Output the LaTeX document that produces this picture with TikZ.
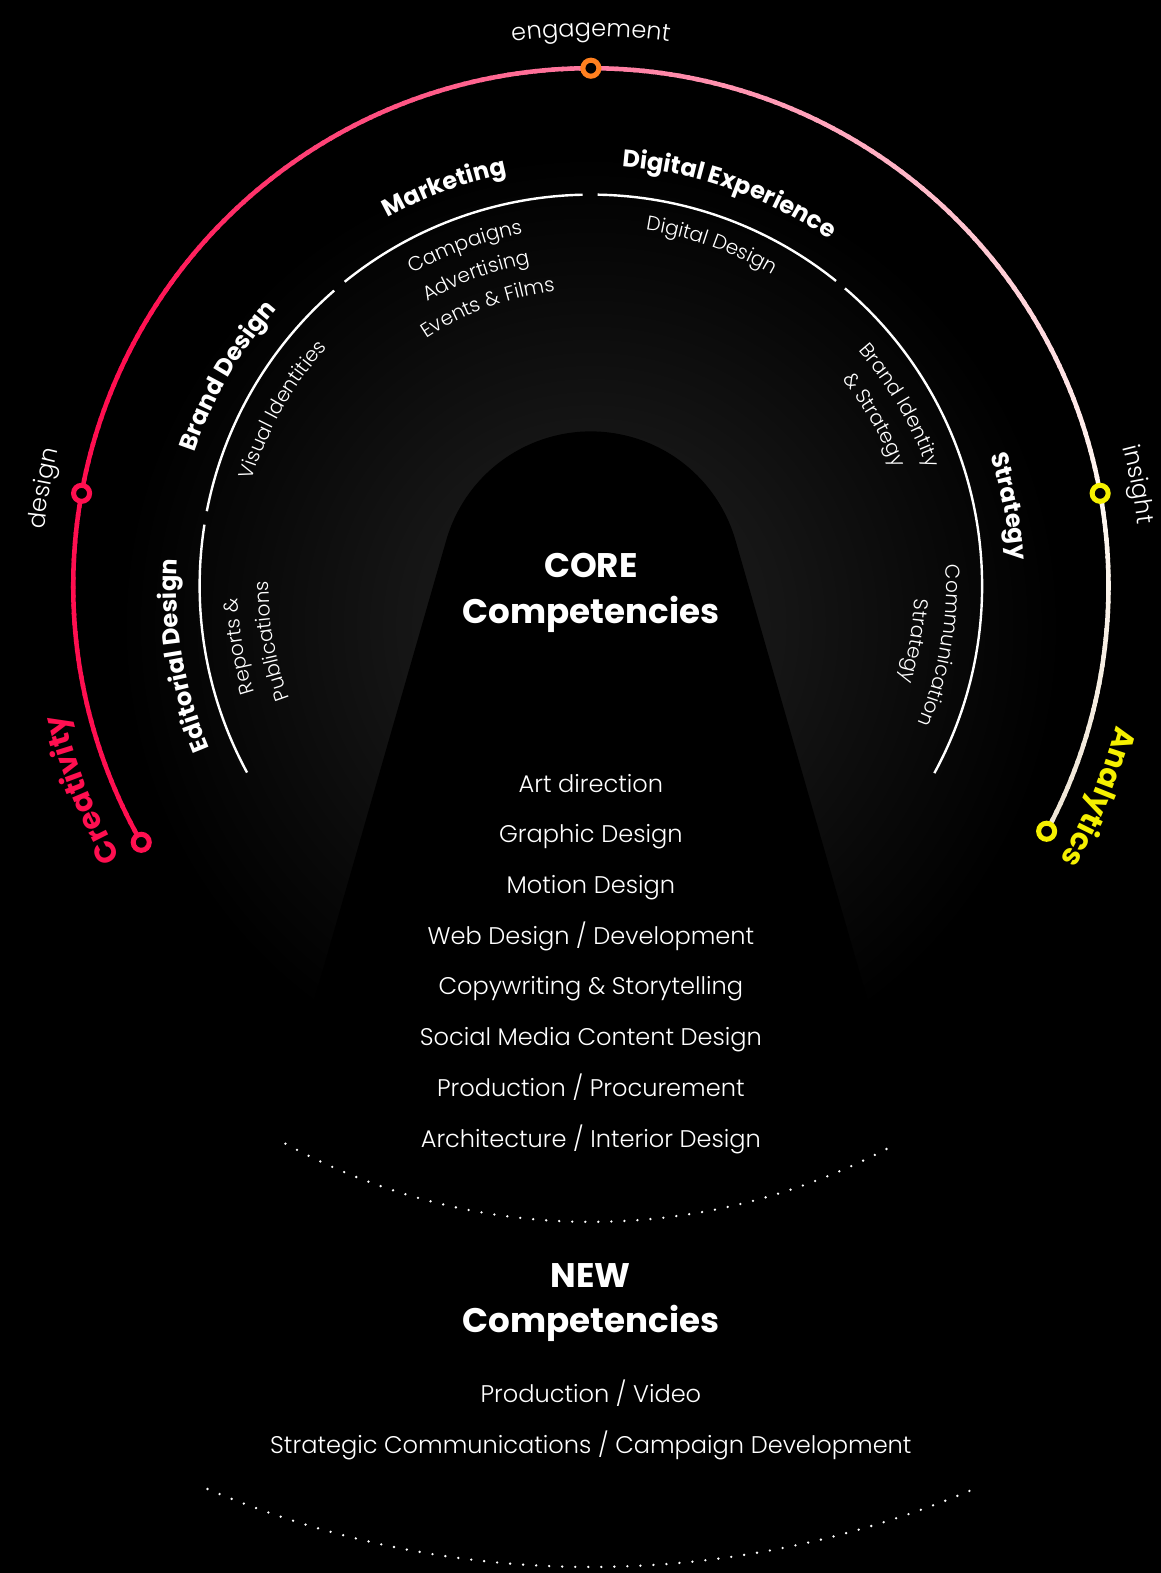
\documentclass[tikz,border=0pt]{standalone}
\usepackage{fontspec}
\usetikzlibrary{decorations.text}

\newfontfamily\lightf{Poppins Light}
\newfontfamily\boldf{Poppins Bold}
\newcommand\lightsm{\lightf\fontsize{20}{20}\selectfont}
\newcommand\lightmd{\lightf\fontsize{24}{24}\selectfont}
\newcommand\boldmd{\boldf\fontsize{24}{24}\selectfont}
\newcommand\boldlg{\boldf\fontsize{30}{30}\selectfont}
\newcommand\boldxl{\boldf\fontsize{34}{34}\selectfont}

\definecolor{cRed}{HTML}{FF0F50}
\definecolor{cPink}{HTML}{FF7AA0}
\definecolor{cPale}{HTML}{FFF8F2}
\definecolor{cCream}{HTML}{EFE6D6}
\definecolor{cOrange}{HTML}{FF801F}
\definecolor{cYellow}{HTML}{F5F000}
\definecolor{glowA}{HTML}{1F1F1F}
\definecolor{glowB}{HTML}{151515}
\definecolor{glowC}{HTML}{080808}

% the path's bounding box spans 25bp of radius
\pgfdeclareradialshading{glow}{\pgfpointorigin}{%
  color(0bp)=(glowA); color(10bp)=(glowB); color(19bp)=(glowC);
  color(25bp)=(black); color(50bp)=(black)}

% text centred on a clockwise arc: angle, radius, half span, font, colour, text
\newcommand\arclabel[6]{%
  \path[decorate, decoration={text along path, text align=center,
      text color=#5, text={|#4|#6}}]
    ({#1+#3}:#2) arc[start angle={#1+#3}, end angle={#1-#3}, radius=#2];}

\tikzset{
  outer/.style={line width=4.5, line cap=butt},
  inner/.style={white, line width=2.4},
  ring/.style={circle, draw=#1, line width=5, fill=black,
    minimum size=16, inner sep=0pt},
  listtxt/.style={text=white, font=\lightmd, anchor=base},
  headtxt/.style={text=white, font=\boldxl, anchor=base},
  dots/.style={white, line width=2.6, line cap=round,
    dash pattern=on 0pt off 13pt}
}

\begin{document}
\begin{tikzpicture}[x=1pt,y=1pt]
\useasboundingbox (-589,-984) rectangle (568,584);
\fill[black] (-589,-984) rectangle (568,584);

% soft glow behind the centre, with the dark arch in front of it
\shade[shading=glow] (0,-40) circle (470);
\fill[black] (-392.6,-819.6) -- (-144.2,45.3)
  arc[start angle=164, end angle=16, radius=150]
  -- (392.6,-819.6) -- cycle;

% inner ring of five sectors
\draw[inner] (208.5:390) arc[start angle=208.5, end angle=171, radius=390];
\draw[inner] (169:390) arc[start angle=169, end angle=131, radius=390];
\draw[inner] (129:390) arc[start angle=129, end angle=91.2, radius=390];
\draw[inner] (89:390) arc[start angle=89, end angle=51.2, radius=390];
\draw[inner] (49.5:390) arc[start angle=49.5, end angle=-28.6, radius=390];

% outer arc, red on the creative side fading to pale on the analytic side
\foreach \a in {150,...,209}{
  \draw[outer, cRed] (\a:516) arc[start angle=\a, end angle=\a+1.3, radius=516];}
\foreach \a in {90,...,149}{
  \pgfmathsetmacro\p{(\a-90)/60*100}
  \draw[outer, color=cRed!\p!cPink] (\a:516) arc[start angle=\a, end angle=\a+1.3, radius=516];}
\foreach \a in {10,...,89}{
  \pgfmathsetmacro\p{(\a-10)/80*100}
  \draw[outer, color=cPink!\p!cPale] (\a:516) arc[start angle=\a, end angle=\a+1.3, radius=516];}
\foreach \a in {-28,...,9}{
  \pgfmathsetmacro\p{(\a+28)/38*100}
  \draw[outer, color=cPale!\p!cCream] (\a:516) arc[start angle=\a, end angle=\a+1.3, radius=516];}

% markers on the outer arc
\node[ring=cRed] (endL) at (209.7:516) {};
\node[ring=cRed] (mDesign) at (169.7:516) {};
\node[ring=cOrange] (mEngage) at (90:516) {};
\node[ring=cYellow] (mInsight) at (10.3:516) {};
\node[ring=cYellow] (endR) at (-28.3:516) {};

% outer words
\arclabel{90}{548}{40}{\lightmd}{white}{engagement}
\arclabel{169.9}{548}{30}{\lightmd}{white}{design}
\arclabel{10.5}{548}{30}{\lightmd}{white}{insight}
\arclabel{201.8}{541}{30}{\boldlg}{cRed}{Creativity}
\arclabel{-22.6}{542}{30}{\boldlg}{cYellow}{Analytics}

% sector titles
\arclabel{189.7}{413}{40}{\boldmd}{white}{Editorial Design}
\arclabel{150}{417}{40}{\boldmd}{white}{Brand Design}
\arclabel{110.2}{419}{40}{\boldmd}{white}{Marketing}
\arclabel{70.6}{419}{40}{\boldmd}{white}{Digital Experience}
\arclabel{10.8}{419}{40}{\boldmd}{white}{Strategy}

% sector contents
\arclabel{189.8}{352}{40}{\lightsm}{white}{Reports {\&}}
\arclabel{189.8}{321}{40}{\lightsm}{white}{Publications}
\arclabel{150.3}{354}{40}{\lightsm}{white}{Visual Identities}
\arclabel{110.3}{358}{40}{\lightsm}{white}{Campaigns}
\arclabel{110.3}{327}{40}{\lightsm}{white}{Advertising}
\arclabel{110.3}{296}{40}{\lightsm}{white}{Events {\&} Films}
\arclabel{70.5}{359}{40}{\lightsm}{white}{Digital Design}
\arclabel{30.3}{355}{40}{\lightsm}{white}{Brand Identity}
\arclabel{30.3}{324}{40}{\lightsm}{white}{{\&} Strategy}
\arclabel{-9.7}{354}{40}{\lightsm}{white}{Communication}
\arclabel{-9.7}{323}{40}{\lightsm}{white}{Strategy}

% core competencies
\node[headtxt] (coreA) at (0,8) {CORE};
\node[headtxt] (coreB) at (0,-38) {Competencies};
\foreach \t [count=\i from 0] in {Art direction, Graphic Design, Motion Design,
    Web Design / Development, Copywriting \& Storytelling,
    Social Media Content Design, Production / Procurement,
    Architecture / Interior Design}{
  \node[listtxt] (core\i) at (0,{-205.5-50.57*\i}) {\t};}
\draw[dots] (241.3:634) arc[start angle=241.3, end angle=298.7, radius=634];

% new competencies
\node[headtxt] (newA) at (0,-699) {NEW};
\node[headtxt] (newB) at (0,-744) {Competencies};
\node[listtxt] (new0) at (0,-814.5) {Production / Video};
\node[listtxt] (new1) at (0,-864.5) {Strategic Communications / Campaign Development};
\draw[dots] (247:978) arc[start angle=247, end angle=293.2, radius=978];
\end{tikzpicture}
\end{document}
